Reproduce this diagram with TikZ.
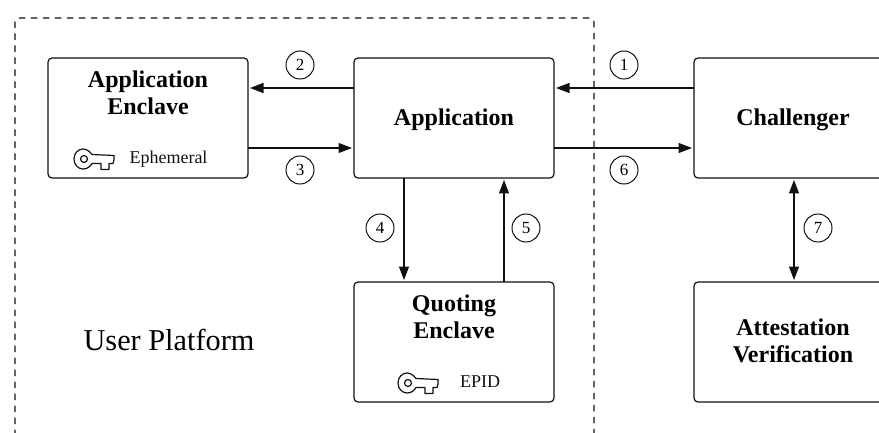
\documentclass[tikz,border=0pt]{standalone}
\usepackage{fontspec}
\setmainfont{Liberation Serif}
\usetikzlibrary{arrows.meta}
\definecolor{ink}{HTML}{111111}
\tikzset{
  x=1pt,y=-1pt,
  box/.style={draw=ink,line width=1.2pt,rounded corners=4pt,minimum width=200pt,minimum height=120pt,outer sep=0pt,inner sep=0pt},
  title/.style={font=\fontsize{24}{27}\selectfont\bfseries,align=center,text=black,inner sep=0pt},
  small/.style={font=\fontsize{18}{20}\selectfont,text=ink,inner sep=0pt},
  num/.style={draw=ink,circle,line width=1pt,minimum size=28pt,inner sep=0pt,font=\fontsize{17}{20}\selectfont,text=black},
  arr/.style={draw=ink,line width=1.2pt,-{Triangle[length=13.5pt,width=10pt]},shorten >=2pt},
  keyline/.style={draw=ink,line width=1.2pt,line join=round},
  frame/.style={draw=ink,line width=1.1pt,dash pattern=on 6.5pt off 5.5pt,rounded corners=4pt},
  pics/keyicon/.style={code={
    \draw[keyline] (8,-4.5) .. controls (5.5,-8) and (2,-10) .. (-1,-10)
       .. controls (-6,-10) and (-10,-5.5) .. (-10,0)
       .. controls (-10,5.5) and (-6,10) .. (-1,10)
       .. controls (3,10) and (6,8) .. (8,4.5) -- (17,4.5) -- (17,10.5) -- (25,10.5) -- (25,4.5) -- (29,4.5) -- (30,1) -- (30,-3.5) -- cycle;
    \draw[keyline] (0,0) circle[radius=3.5];
  }}
}
\begin{document}
\begin{tikzpicture}
\useasboundingbox (0,0) rectangle (879,433);
\clip (0,0) rectangle (879,433);
\fill[white] (0,0) rectangle (879,433);
\draw[frame] (15,460) -- (15,18) -- (594,18) -- (594,460);

\node[box] (ae) at (148,118) {};
\node[box] (app) at (454,118) {};
\node[box] (ch) at (794,118) {};
\node[box] (qe) at (454,342) {};
\node[box] (av) at (794,342) {};

\node[title] (aet) at (148,92.5) {Application\\Enclave};
\node[title] (appt) at (454,119.5) {Application};
\node[title] (cht) at (793,119.5) {Challenger};
\node[title] (qet) at (454,316.5) {Quoting\\Enclave};
\node[title] (avt) at (793,340.5) {Attestation\\Verification};

\pic at (84,159) {keyicon};
\pic at (408,383) {keyicon};
\node[small] (eph) at (168.5,159.5) {Ephemeral};
\node[small] (epid) at (480,381.5) {EPID};
\node[font=\fontsize{30.3}{34}\selectfont,text=black,inner sep=0pt] (up) at (169,340) {User Platform};

\draw[arr] ([yshift=-30pt]app.north west) -- ([yshift=-30pt]ae.north east);
\draw[arr] ([yshift=-90pt]ae.north east) -- ([yshift=-90pt]app.north west);
\draw[arr] ([xshift=-50pt]app.south) -- ([xshift=-50pt]qe.north);
\draw[arr] ([xshift=50pt]qe.north) -- ([xshift=50pt]app.south);
\draw[arr] ([yshift=-30pt]ch.north west) -- ([yshift=-30pt]app.north east);
\draw[arr] ([yshift=-90pt]app.north east) -- ([yshift=-90pt]ch.north west);
\draw[arr,{Triangle[length=13.5pt,width=10pt]}-{Triangle[length=13.5pt,width=10pt]},shorten <=2pt] (ch.south) -- (av.north);

\node[num] (n1) at (624,65) {1};
\node[num] (n2) at (300,65) {2};
\node[num] (n3) at (300,170) {3};
\node[num] (n4) at (380,228) {4};
\node[num] (n5) at (526,228) {5};
\node[num] (n6) at (624,170) {6};
\node[num] (n7) at (818,228) {7};
\end{tikzpicture}
\end{document}
